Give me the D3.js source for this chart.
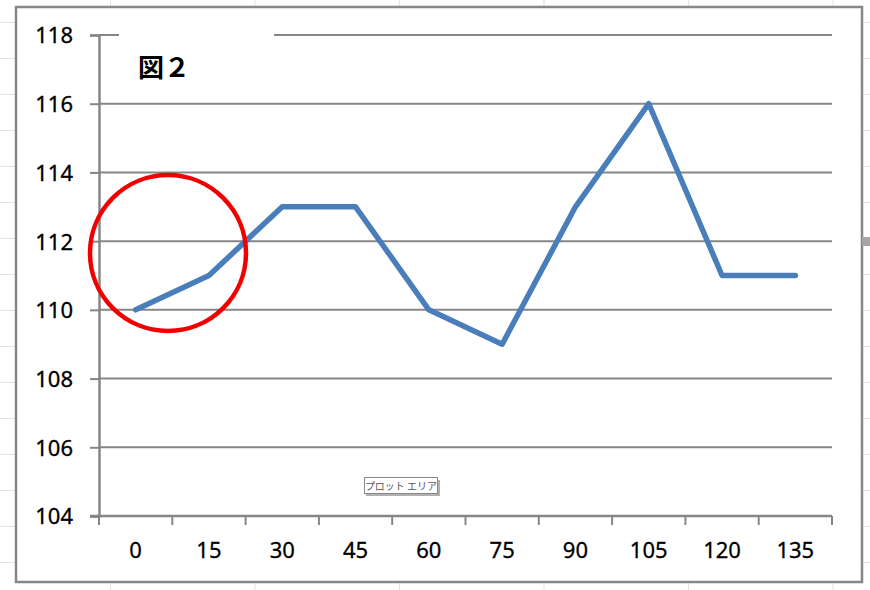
<!DOCTYPE html>
<html>
<head>
<meta charset="utf-8">
<script src="https://cdn.jsdelivr.net/npm/d3@7"></script>
<style>
  body { margin: 0; background: #fff; }
  text { font-family: "Noto Sans", "DejaVu Sans", sans-serif; }
</style>
</head>
<body>
<svg id="chart"></svg>
<script>
const categories = [0, 15, 30, 45, 60, 75, 90, 105, 120, 135];
const values = [110, 111, 113, 113, 110, 109, 113, 116, 111, 111];
const yTicks = [104, 106, 108, 110, 112, 114, 116, 118];
const titleText = "図２";
const tooltipText = "プロット エリア";

const width = 870;
const height = 590;
const plot = { left: 99, right: 832, top: 35, bottom: 516 };

const svg = d3.select("#chart").attr("width", width).attr("height", height);

// spreadsheet cell grid behind the chart
const sheet = svg.append("g").attr("stroke", "#e3e3e3").attr("stroke-width", 1);
d3.range(0, 6).forEach((i) => {
  const x = 110.5 + i * 144.5;
  sheet.append("line").attr("x1", x).attr("x2", x).attr("y1", 0).attr("y2", height);
});
d3.range(0, 16).forEach((i) => {
  const y = 22.5 + i * 36;
  sheet.append("line").attr("x1", 0).attr("x2", width).attr("y1", y).attr("y2", y);
});

// chart area
svg.append("rect")
  .attr("x", 16).attr("y", 7)
  .attr("width", 846).attr("height", 575)
  .attr("fill", "#fff")
  .attr("stroke", "#868686")
  .attr("stroke-width", 2.5);

// resize handle on the right edge
svg.append("rect")
  .attr("x", 862).attr("y", 237)
  .attr("width", 8).attr("height", 9)
  .attr("fill", "#a6a6a6");

const x = d3.scaleBand().domain(categories).range([plot.left, plot.right]);
const y = d3.scaleLinear().domain([104, 118]).range([plot.bottom, plot.top]);

// horizontal gridlines
svg.append("g")
  .selectAll("line")
  .data(yTicks.filter((d) => d !== 104))
  .enter()
  .append("line")
  .attr("x1", plot.left)
  .attr("x2", plot.right)
  .attr("y1", (d) => y(d))
  .attr("y2", (d) => y(d))
  .attr("stroke", "#868686")
  .attr("stroke-width", 2);

// y axis
const yAxis = svg.append("g")
  .attr("transform", `translate(${plot.left},0)`)
  .call(d3.axisLeft(y).tickValues(yTicks).tickSize(9).tickPadding(17).tickFormat(d3.format("d")));
yAxis.select(".domain").attr("stroke", "#868686").attr("stroke-width", 2.5);
yAxis.selectAll(".tick line").attr("stroke", "#868686").attr("stroke-width", 2);
yAxis.selectAll(".tick text")
  .style("font-size", "22px")
  .attr("fill", "#000")
  .attr("stroke", "#000")
  .attr("stroke-width", 0.3)
  .attr("dy", "0.36em");

// x axis with ticks between categories
const bounds = categories.map((d) => x(d)).concat([plot.right]);
svg.append("line")
  .attr("x1", plot.left - 9).attr("x2", plot.right)
  .attr("y1", plot.bottom).attr("y2", plot.bottom)
  .attr("stroke", "#868686").attr("stroke-width", 2.5);
svg.append("g")
  .selectAll("line")
  .data(bounds)
  .enter()
  .append("line")
  .attr("x1", (d) => d).attr("x2", (d) => d)
  .attr("y1", plot.bottom).attr("y2", plot.bottom + 9)
  .attr("stroke", "#868686").attr("stroke-width", 2);
svg.append("g")
  .selectAll("text")
  .data(categories)
  .enter()
  .append("text")
  .attr("x", (d) => x(d) + x.bandwidth() / 2)
  .attr("y", 558)
  .attr("text-anchor", "middle")
  .style("font-size", "22px")
  .attr("stroke", "#000")
  .attr("stroke-width", 0.3)
  .text((d) => d);

// title box hides the top gridline
svg.append("rect")
  .attr("x", 119).attr("y", 22)
  .attr("width", 155).attr("height", 70)
  .attr("fill", "#fff");
svg.append("text")
  .attr("x", 138).attr("y", 77)
  .style("font-family", "'Noto Sans CJK JP', sans-serif")
  .style("font-size", "26px")
  .style("font-weight", "bold")
  .text(titleText);

// series line
const line = d3.line()
  .x((d, i) => x(categories[i]) + x.bandwidth() / 2)
  .y((d) => y(d));
svg.append("path")
  .datum(values)
  .attr("d", line)
  .attr("fill", "none")
  .attr("stroke", "#4a7ebb")
  .attr("stroke-width", 5.5)
  .attr("stroke-linejoin", "round")
  .attr("stroke-linecap", "round");

// red highlight circle
svg.append("circle")
  .attr("cx", 168).attr("cy", 253)
  .attr("r", 78)
  .attr("fill", "none")
  .attr("stroke", "#f00000")
  .attr("stroke-width", 4.5);

// tooltip
svg.append("rect")
  .attr("x", 366).attr("y", 480)
  .attr("width", 74).attr("height", 16)
  .attr("fill", "#b0b0b0");
svg.append("rect")
  .attr("x", 364.5).attr("y", 477.5)
  .attr("width", 73).attr("height", 16)
  .attr("fill", "#fff")
  .attr("stroke", "#8a8a8a")
  .attr("stroke-width", 1);
svg.append("text")
  .attr("x", 401).attr("y", 490)
  .attr("text-anchor", "middle")
  .style("font-family", "'Noto Sans CJK JP', sans-serif")
  .style("font-size", "10px")
  .attr("fill", "#555")
  .text(tooltipText);
</script>
</body>
</html>
